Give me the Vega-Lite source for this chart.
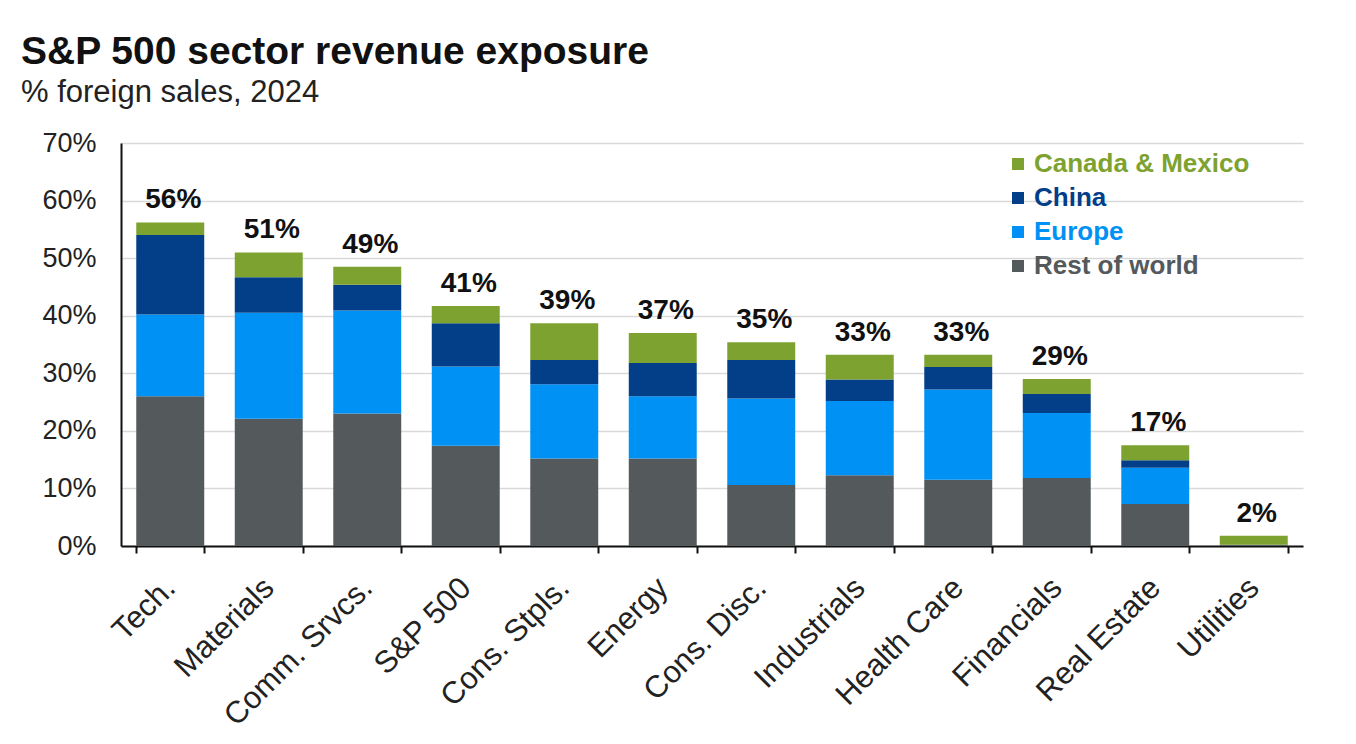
{
  "$schema": "https://vega.github.io/schema/vega-lite/v6.json",
  "width": 1182,
  "height": 403,
  "autosize": "none",
  "padding": {"left": 121, "top": 143, "right": 53, "bottom": 198},
  "background": "white",
  "title": {
    "text": "S&P 500 sector revenue exposure",
    "subtitle": "% foreign sales, 2024",
    "anchor": "start",
    "frame": "group",
    "dx": -100,
    "offset": 21,
    "font": "Liberation Sans",
    "fontSize": 39,
    "fontWeight": "bold",
    "color": "#111111",
    "subtitleFont": "Liberation Sans",
    "subtitleFontSize": 31,
    "subtitleColor": "#222222",
    "subtitlePadding": 6
  },
  "datasets": {
    "exposure": [
      {"sector": "Tech.", "region": "Rest of world", "value": 26.0},
      {"sector": "Tech.", "region": "Europe", "value": 14.2},
      {"sector": "Tech.", "region": "China", "value": 13.8},
      {"sector": "Tech.", "region": "Canada & Mexico", "value": 2.2},
      {"sector": "Materials", "region": "Rest of world", "value": 22.1},
      {"sector": "Materials", "region": "Europe", "value": 18.4},
      {"sector": "Materials", "region": "China", "value": 6.2},
      {"sector": "Materials", "region": "Canada & Mexico", "value": 4.3},
      {"sector": "Comm. Srvcs.", "region": "Rest of world", "value": 23.0},
      {"sector": "Comm. Srvcs.", "region": "Europe", "value": 17.9},
      {"sector": "Comm. Srvcs.", "region": "China", "value": 4.5},
      {"sector": "Comm. Srvcs.", "region": "Canada & Mexico", "value": 3.1},
      {"sector": "S&P 500", "region": "Rest of world", "value": 17.4},
      {"sector": "S&P 500", "region": "Europe", "value": 13.8},
      {"sector": "S&P 500", "region": "China", "value": 7.5},
      {"sector": "S&P 500", "region": "Canada & Mexico", "value": 3.0},
      {"sector": "Cons. Stpls.", "region": "Rest of world", "value": 15.2},
      {"sector": "Cons. Stpls.", "region": "Europe", "value": 12.9},
      {"sector": "Cons. Stpls.", "region": "China", "value": 4.2},
      {"sector": "Cons. Stpls.", "region": "Canada & Mexico", "value": 6.4},
      {"sector": "Energy", "region": "Rest of world", "value": 15.2},
      {"sector": "Energy", "region": "Europe", "value": 10.8},
      {"sector": "Energy", "region": "China", "value": 5.8},
      {"sector": "Energy", "region": "Canada & Mexico", "value": 5.2},
      {"sector": "Cons. Disc.", "region": "Rest of world", "value": 10.6},
      {"sector": "Cons. Disc.", "region": "Europe", "value": 15.0},
      {"sector": "Cons. Disc.", "region": "China", "value": 6.7},
      {"sector": "Cons. Disc.", "region": "Canada & Mexico", "value": 3.1},
      {"sector": "Industrials", "region": "Rest of world", "value": 12.3},
      {"sector": "Industrials", "region": "Europe", "value": 12.9},
      {"sector": "Industrials", "region": "China", "value": 3.7},
      {"sector": "Industrials", "region": "Canada & Mexico", "value": 4.3},
      {"sector": "Health Care", "region": "Rest of world", "value": 11.5},
      {"sector": "Health Care", "region": "Europe", "value": 15.7},
      {"sector": "Health Care", "region": "China", "value": 3.9},
      {"sector": "Health Care", "region": "Canada & Mexico", "value": 2.1},
      {"sector": "Financials", "region": "Rest of world", "value": 11.8},
      {"sector": "Financials", "region": "Europe", "value": 11.3},
      {"sector": "Financials", "region": "China", "value": 3.3},
      {"sector": "Financials", "region": "Canada & Mexico", "value": 2.6},
      {"sector": "Real Estate", "region": "Rest of world", "value": 7.3},
      {"sector": "Real Estate", "region": "Europe", "value": 6.3},
      {"sector": "Real Estate", "region": "China", "value": 1.3},
      {"sector": "Real Estate", "region": "Canada & Mexico", "value": 2.6},
      {"sector": "Utilities", "region": "Rest of world", "value": 0.2},
      {"sector": "Utilities", "region": "Europe", "value": 0.0},
      {"sector": "Utilities", "region": "China", "value": 0.0},
      {"sector": "Utilities", "region": "Canada & Mexico", "value": 1.6}
    ],
    "totals": [
      {"sector": "Tech.", "label": "56%"},
      {"sector": "Materials", "label": "51%"},
      {"sector": "Comm. Srvcs.", "label": "49%"},
      {"sector": "S&P 500", "label": "41%"},
      {"sector": "Cons. Stpls.", "label": "39%"},
      {"sector": "Energy", "label": "37%"},
      {"sector": "Cons. Disc.", "label": "35%"},
      {"sector": "Industrials", "label": "33%"},
      {"sector": "Health Care", "label": "33%"},
      {"sector": "Financials", "label": "29%"},
      {"sector": "Real Estate", "label": "17%"},
      {"sector": "Utilities", "label": "2%"}
    ]
  },
  "data": {"name": "exposure"},
  "encoding": {
    "x": {
      "field": "sector",
      "type": "nominal",
      "sort": null,
      "scale": {"paddingInner": 0.31, "paddingOuter": 0.155},
      "axis": {
        "title": null,
        "tickBand": "extent",
        "labelAngle": -45,
        "labelAlign": "right",
        "labelBaseline": "middle",
        "labelPadding": 30,
        "labelFontSize": 31,
        "labelLimit": 400,
        "labelColor": "#222222",
        "domainColor": "#111111",
        "domainWidth": 2,
        "tickColor": "#111111",
        "tickWidth": 2,
        "tickSize": 7,
        "grid": false
      }
    }
  },
  "layer": [
    {
      "mark": {"type": "bar"},
      "transform": [
        {
          "calculate": "indexof(['Rest of world', 'Europe', 'China', 'Canada & Mexico'], datum.region)",
          "as": "stackOrder"
        }
      ],
      "encoding": {
        "y": {
          "field": "value",
          "type": "quantitative",
          "stack": "zero",
          "scale": {"domain": [0, 70], "nice": false},
          "axis": {
            "title": null,
            "values": [0, 10, 20, 30, 40, 50, 60, 70],
            "labelExpr": "datum.value + '%'",
            "labelFontSize": 27,
            "labelColor": "#222222",
            "labelPadding": 25,
            "ticks": false,
            "domainColor": "#111111",
            "domainWidth": 2,
            "gridColor": "#d9d9d9",
            "gridWidth": 1.5
          }
        },
        "color": {
          "field": "region",
          "type": "nominal",
          "scale": {
            "domain": ["Canada & Mexico", "China", "Europe", "Rest of world"],
            "range": ["#7da22f", "#023f88", "#0091f5", "#54595c"]
          },
          "legend": {
            "title": null,
            "orient": "none",
            "legendX": 884,
            "legendY": 8,
            "padding": 0,
            "symbolType": "square",
            "symbolSize": 144,
            "symbolStrokeWidth": 0,
            "labelFontSize": 26,
            "labelFontWeight": "bold",
            "labelOffset": 3,
            "labelLimit": 400,
            "rowPadding": 8,
            "encode": {
              "labels": {
                "update": {"fill": {"scale": "color", "field": "value"}}
              }
            }
          }
        },
        "order": {"field": "stackOrder", "type": "quantitative"}
      }
    },
    {
      "transform": [
        {"aggregate": [{"op": "sum", "field": "value", "as": "top"}], "groupby": ["sector"]},
        {"lookup": "sector", "from": {"data": {"name": "totals"}, "key": "sector", "fields": ["label"]}}
      ],
      "mark": {
        "type": "text",
        "baseline": "alphabetic",
        "dx": 3,
        "dy": -14,
        "fontSize": 28,
        "fontWeight": "bold",
        "color": "#111111"
      },
      "encoding": {
        "y": {"field": "top", "type": "quantitative"},
        "text": {"field": "label", "type": "nominal"}
      }
    }
  ],
  "config": {
    "font": "Liberation Sans",
    "view": {"stroke": null}
  }
}
